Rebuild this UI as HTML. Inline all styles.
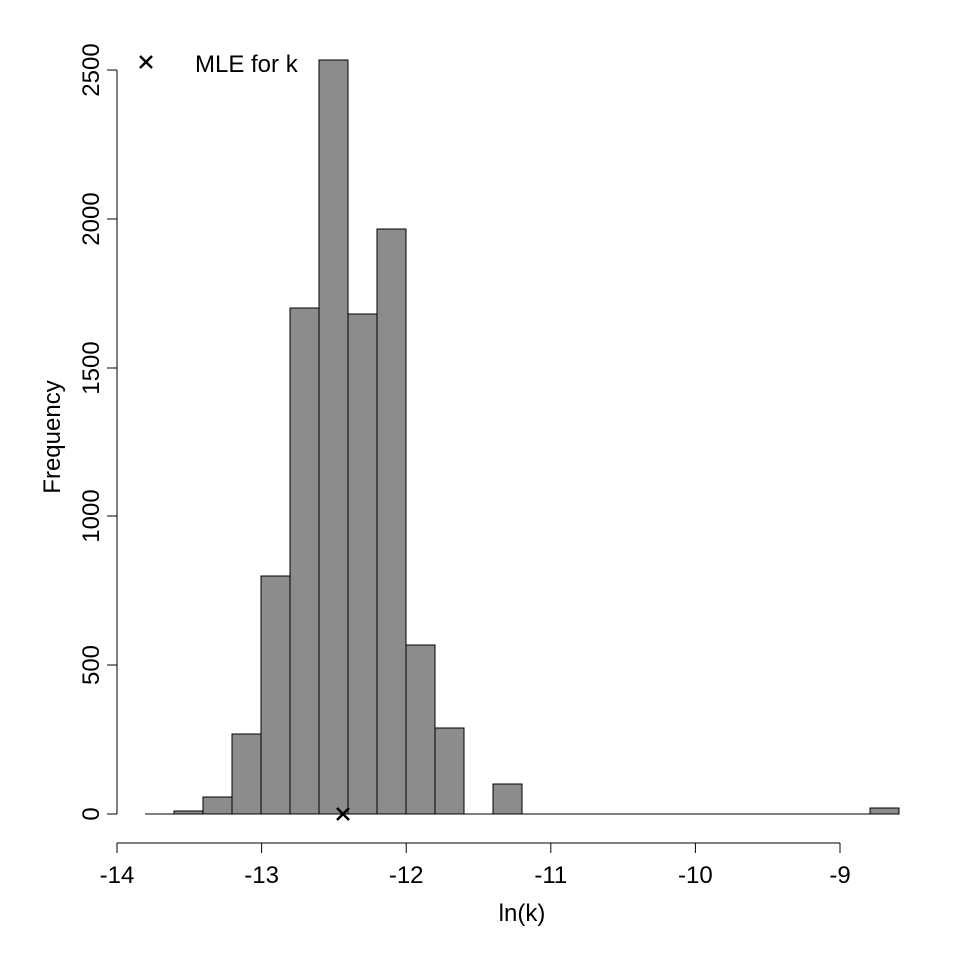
<!DOCTYPE html>
<html><head><style>body{margin:0;background:#fff}</style></head><body>
<svg width="960" height="960" xmlns="http://www.w3.org/2000/svg" font-family="Liberation Sans, Arial, sans-serif">
<rect width="960" height="960" fill="#fff"/>
<line x1="145" y1="814" x2="870" y2="814" stroke="#000" stroke-width="1"/>
<g fill="#8c8c8c" stroke="#000" stroke-width="1">
<rect x="174" y="811" width="29" height="3"/>
<rect x="203" y="797" width="29" height="17"/>
<rect x="232" y="734" width="29" height="80"/>
<rect x="261" y="576" width="29" height="238"/>
<rect x="290" y="308" width="29" height="506"/>
<rect x="319" y="60" width="29" height="754"/>
<rect x="348" y="314" width="29" height="500"/>
<rect x="377" y="229" width="29" height="585"/>
<rect x="406" y="645" width="29" height="169"/>
<rect x="435" y="728" width="29" height="86"/>
<rect x="493" y="784" width="29" height="30"/>
<rect x="870" y="808" width="29" height="6"/>
</g>
<g stroke="#000" stroke-width="1">
<line x1="117" y1="843" x2="840" y2="843"/>
<line x1="117" y1="843" x2="117" y2="853"/>
<line x1="261.6" y1="843" x2="261.6" y2="853"/>
<line x1="406.2" y1="843" x2="406.2" y2="853"/>
<line x1="550.8" y1="843" x2="550.8" y2="853"/>
<line x1="695.4" y1="843" x2="695.4" y2="853"/>
<line x1="840" y1="843" x2="840" y2="853"/>
<line x1="117" y1="814" x2="117" y2="70"/>
<line x1="107" y1="814" x2="117" y2="814"/>
<line x1="107" y1="665" x2="117" y2="665"/>
<line x1="107" y1="516" x2="117" y2="516"/>
<line x1="107" y1="368" x2="117" y2="368"/>
<line x1="107" y1="219" x2="117" y2="219"/>
<line x1="107" y1="70" x2="117" y2="70"/>
</g>
<g font-size="24" text-anchor="middle" fill="#000">
<text x="117" y="883">-14</text>
<text x="261.6" y="883">-13</text>
<text x="406.2" y="883">-12</text>
<text x="550.8" y="883">-11</text>
<text x="695.4" y="883">-10</text>
<text x="840" y="883">-9</text>
<text x="522" y="921">ln(k)</text>
<g transform="translate(99,0)">
<text transform="translate(0,814) rotate(-90)">0</text>
<text transform="translate(0,665) rotate(-90)">500</text>
<text transform="translate(0,516) rotate(-90)">1000</text>
<text transform="translate(0,368) rotate(-90)">1500</text>
<text transform="translate(0,219) rotate(-90)">2000</text>
<text transform="translate(0,70) rotate(-90)">2500</text>
</g>
<text transform="translate(60,437) rotate(-90)">Frequency</text>
</g>
<g stroke="#000" stroke-width="2.5">
<line x1="337" y1="808" x2="349" y2="820"/><line x1="337" y1="820" x2="349" y2="808"/>
<line x1="140" y1="56" x2="152" y2="68"/><line x1="140" y1="68" x2="152" y2="56"/>
</g>
<text x="195" y="72" font-size="24" fill="#000">MLE for k</text>
</svg>
</body></html>
